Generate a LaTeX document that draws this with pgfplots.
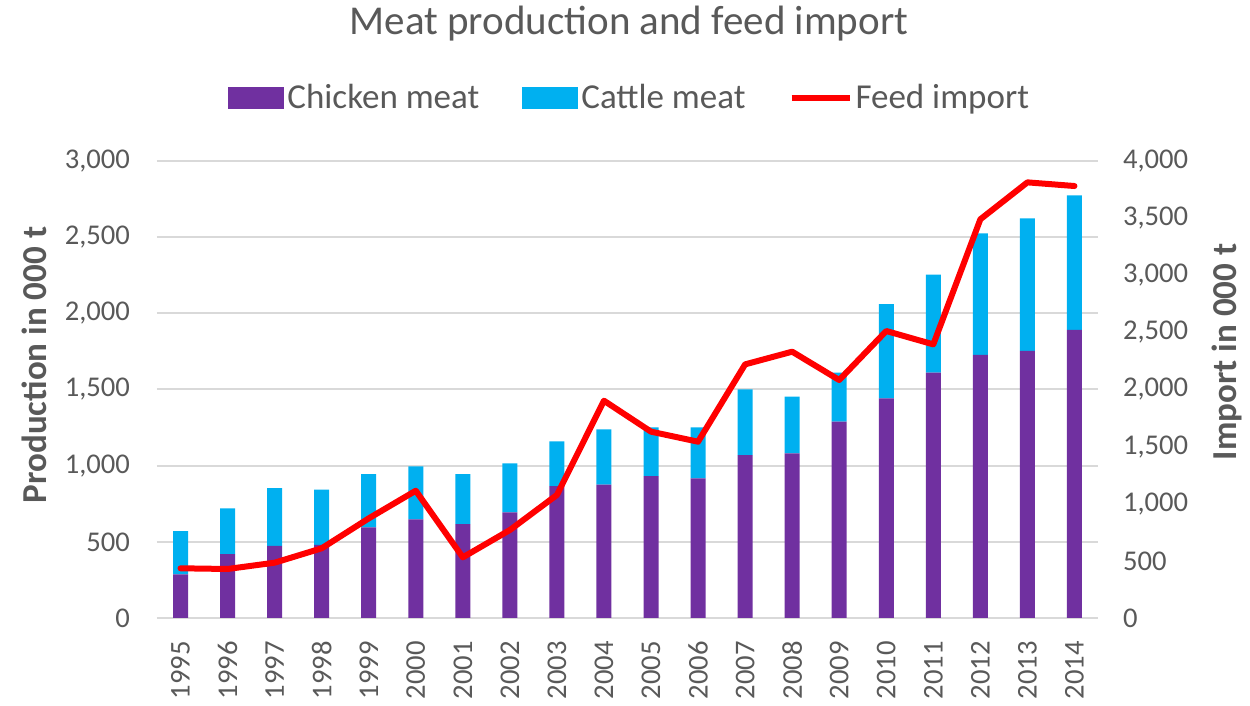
\documentclass[border=0pt]{standalone}
\usepackage{pgfplots}
\usepackage{pgfplotstable}
\pgfplotsset{compat=1.18}
\usepackage{fontspec}
\setmainfont{Carlito}
\definecolor{chick}{HTML}{7030A0}
\definecolor{cattle}{HTML}{00B0F0}
\definecolor{feed}{HTML}{FF0000}
\definecolor{txt}{HTML}{595959}
\definecolor{gridc}{HTML}{D9D9D9}

\pgfplotstableread{
x chicken cattle feed
0  287 284 435
1  420 300 429
2  473 380 484
3  480 362 610
4  595 350 872
5  648 347 1114
6  617 328 531
7  694 321 770
8  866 294 1077
9  875 364 1902
10 932 320 1631
11 917 335 1543
12 1070 431 2220
13 1081 372 2331
14 1289 321 2083
15 1442 619 2512
16 1610 644 2395
17 1727 798 3490
18 1753 871 3813
19 1891 884 3781
}\data

\begin{document}
\begin{tikzpicture}
\begin{axis}[
  name=main,
  width=470.5pt, height=228.5pt, scale only axis,
  xmin=-0.5, xmax=19.5, ymin=0, ymax=3000,
  ybar stacked, bar width=7.5pt,
  xtick={0,...,19},
  xticklabels={1995,1996,1997,1998,1999,2000,2001,2002,2003,2004,2005,2006,2007,2008,2009,2010,2011,2012,2013,2014},
  ytick={0,500,1000,1500,2000,2500,3000},
  scaled y ticks=false,
  /pgf/number format/.cd, 1000 sep={,}, assume math mode=true, /pgfplots/.cd,
  ymajorgrids, grid style={draw=gridc, line width=1pt},
  axis x line*=bottom, axis y line*=left,
  y axis line style={draw=none},
  x axis line style={draw=gridc, line width=1pt, -},
  major tick length=0pt,
  tick label style={font=\fontsize{14.3}{16}\selectfont, text=txt},
  yticklabel style={anchor=east, xshift=-10pt},
  xticklabel style={rotate=90, anchor=east, xshift=-8pt},
  legend columns=3,
  legend cell align=left,
  legend style={at={(0.0755,1.138)}, anchor=west, draw=none, fill=none,
    inner sep=0pt, font=\fontsize{17.5}{20}\selectfont, text=txt,
    nodes={inner sep=1.5pt},
    /tikz/every even column/.append style={column sep=20pt}},
]
\addplot+[draw=none, fill=chick,
  legend image code/.code={\fill[fill=chick] (0pt,-5.5pt) rectangle (28pt,5.5pt);}]
  table[x=x, y=chicken]{\data};
\addlegendentry{Chicken meat}
\addplot+[draw=none, fill=cattle,
  legend image code/.code={\fill[fill=cattle] (0pt,-5.5pt) rectangle (28pt,5.5pt);}]
  table[x=x, y=cattle]{\data};
\addlegendentry{Cattle meat}
\addlegendimage{legend image code/.code={\draw[feed, line width=3pt] (0pt,0pt) -- (29pt,0pt);}}
\addlegendentry{Feed import}
\end{axis}
\begin{axis}[
  width=470.5pt, height=228.5pt, scale only axis,
  xmin=-0.5, xmax=19.5, ymin=0, ymax=4000,
  axis x line=none, axis y line*=right,
  y axis line style={draw=none},
  major tick length=0pt,
  ytick={0,500,1000,1500,2000,2500,3000,3500,4000},
  scaled y ticks=false,
  /pgf/number format/.cd, 1000 sep={,}, assume math mode=true, /pgfplots/.cd,
  tick label style={font=\fontsize{14.3}{16}\selectfont, text=txt},
  yticklabel style={anchor=west, xshift=9pt},
]
\addplot[feed, line width=3pt, line join=round, line cap=round, mark=none]
  table[x=x, y=feed]{\data};
\end{axis}
\begin{scope}[shift={(main.south west)}, x=1pt, y=1pt]
\path[use as bounding box] (-78.5,-40) rectangle (546.5,309);
\node[text=txt, font=\fontsize{20.5}{24}\selectfont] at (236,297) {Meat production and feed import};
\node[rotate=90, text=txt, font=\bfseries\fontsize{17.5}{20}\selectfont] at (-61.5,126.5) {Production in 000 t};
\node[rotate=90, text=txt, font=\bfseries\fontsize{17.5}{20}\selectfont, inner sep=0pt] at (535,133) {Import in 000 t};
\end{scope}
\end{tikzpicture}
\end{document}
